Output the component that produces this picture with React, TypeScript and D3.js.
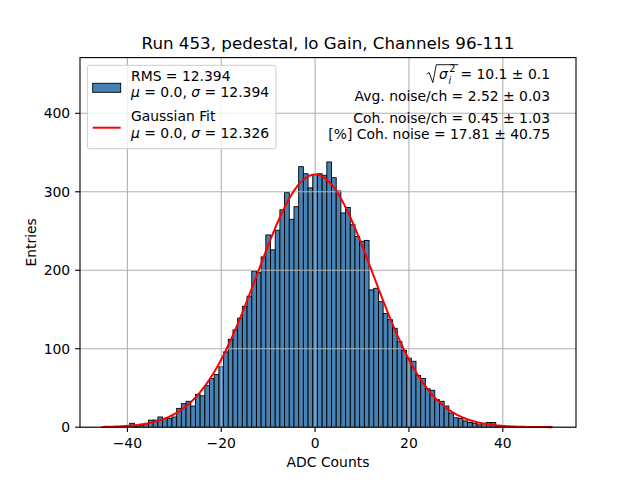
import * as d3 from "d3";

// histogram: one-ADC-count bins, first bin centred on -45
const binStart = -45;
const counts = [
  0, 0, 0, 0, 0, 0,
  5, 1, 2, 4, 9, 9, 13, 11, 11, 13,
  24, 30, 33, 27, 42, 40, 53, 62, 67, 77,
  96, 112, 124, 139, 154, 167, 199, 197, 217, 245,
  226, 251, 277, 299, 265, 281, 332, 323, 305, 322,
  323, 321, 338, 318, 301, 273, 280, 258, 243, 237,
  238, 175, 177, 160, 145, 137, 126, 109, 98, 88,
  84, 66, 62, 49, 47, 35, 33, 27, 18, 12,
  11, 8, 6, 5, 3, 5, 6, 6, 1, 1,
  0, 0, 0, 0, 0, 0, 0, 0, 0, 1,
];

// gaussian fit parameters
const fitMu = 0.0;
const fitSigma = 12.326;
const fitPeak = 322;
const fitRange = [-45.5, 50.5];

const xTicks = [-40, -20, 0, 20, 40];
const yTicks = [0, 100, 200, 300, 400];

const title = "Run 453, pedestal, lo Gain, Channels 96-111";
const statLines = [
  "Avg. noise/ch = 2.52 ± 0.03",
  "Coh. noise/ch = 0.45 ± 1.03",
  "[%] Coh. noise = 17.81 ± 40.75",
];

const W = 640, H = 480;
const m = { left: 80, right: 576, top: 57.6, bottom: 427.2 };
const FONT = "DejaVu Sans, sans-serif";
const BAR = "#4682b4";
const GRID = "#b0b0b0";

export default function App() {
  const x = d3.scaleLinear().domain([-50.1, 55.6]).range([m.left, m.right]);
  const y = d3.scaleLinear().domain([0, 471]).range([m.bottom, m.top]);

  const bins = counts.map((c, i) => ({ k: binStart + i, c }));

  const fitPts = d3.range(fitRange[0], fitRange[1] + 0.01, 0.25).map(v => [
    v,
    fitPeak * Math.exp(-((v - fitMu) ** 2) / (2 * fitSigma * fitSigma)),
  ]);
  const fitLine = d3.line<number[]>().x(d => x(d[0])).y(d => y(d[1]));

  return (
    <svg width={W} height={H} style={{ position: "absolute", left: 0, top: 0, background: "#fff" }} fontFamily={FONT}>
      <rect width={W} height={H} fill="#fff" />
      {/* bars */}
      {bins.filter(b => b.c > 0).map(b => (
        <rect key={b.k} x={x(b.k - 0.5)} width={x(b.k + 0.5) - x(b.k - 0.5)}
          y={y(b.c)} height={y(0) - y(b.c)} fill={BAR} stroke="#000" strokeWidth={0.9} />
      ))}
      {/* grid */}
      {xTicks.map(t => (
        <line key={"gx" + t} x1={x(t)} x2={x(t)} y1={m.top} y2={m.bottom} stroke={GRID} strokeWidth={1.1} />
      ))}
      {yTicks.map(t => (
        <line key={"gy" + t} x1={m.left} x2={m.right} y1={y(t)} y2={y(t)} stroke={GRID} strokeWidth={1.1} />
      ))}
      {/* fit */}
      <path d={fitLine(fitPts) ?? ""} fill="none" stroke="#ff0000" strokeWidth={2} />
      {/* spines */}
      <rect x={m.left} y={m.top} width={m.right - m.left} height={m.bottom - m.top} fill="none" stroke="#000" strokeWidth={1.1} />
      {/* ticks */}
      {xTicks.map(t => (
        <g key={"tx" + t}>
          <line x1={x(t)} x2={x(t)} y1={m.bottom} y2={m.bottom + 4.9} stroke="#000" strokeWidth={1.1} />
          <text x={x(t)} y={m.bottom + 20.5} fontSize={13.9} textAnchor="middle">{t < 0 ? "−" + Math.abs(t) : t}</text>
        </g>
      ))}
      {yTicks.map(t => (
        <g key={"ty" + t}>
          <line x1={m.left - 4.9} x2={m.left} y1={y(t)} y2={y(t)} stroke="#000" strokeWidth={1.1} />
          <text x={m.left - 9.8} y={y(t) + 5} fontSize={13.9} textAnchor="end">{t}</text>
        </g>
      ))}
      <text x={(m.left + m.right) / 2} y={467} fontSize={13.9} textAnchor="middle">ADC Counts</text>
      <text transform={`translate(36,${(m.top + m.bottom) / 2}) rotate(-90)`} fontSize={13.9} textAnchor="middle">Entries</text>
      <text x={(m.left + m.right) / 2} y={49} fontSize={16.7} textAnchor="middle">{title}</text>

      {/* stats box text */}
      <path d="M426.7 74 L429.2 72.6 L432.8 82.6 L436.3 64.7 L458.3 64.7" fill="none" stroke="#000" strokeWidth={0.9} />
      <text x={439} y={79} fontSize={13.9} fontStyle="italic">σ</text>
      <text x={449.2} y={71.5} fontSize={9.7}>2</text>
      <text x={448.5} y={83.5} fontSize={9.7} fontStyle="italic">i</text>
      <text x={550} y={79} fontSize={13.9} textAnchor="end">= 10.1 ± 0.1</text>
      {statLines.map((s, i) => (
        <text key={s} x={550} y={[101.3, 122.6, 139][i]} fontSize={13.9} textAnchor="end">{s}</text>
      ))}

      {/* legend */}
      <rect x={87.3} y={65.3} width={188.7} height={83.4} rx={2.5} fill="#fff" fillOpacity={0.8} stroke="#cccccc" strokeWidth={1} />
      <rect x={92.7} y={83.3} width={28} height={9} fill={BAR} stroke="#000" strokeWidth={0.9} />
      <text x={131} y={80.7} fontSize={13.9}>RMS = 12.394</text>
      <text x={131} y={96.6} fontSize={13.9}>
        <tspan fontStyle="italic">μ</tspan> = 0.0, <tspan fontStyle="italic">σ</tspan> = 12.394
      </text>
      <line x1={92.7} x2={120.7} y1={127.7} y2={127.7} stroke="#ff0000" strokeWidth={2} />
      <text x={131} y={121.3} fontSize={13.9}>Gaussian Fit</text>
      <text x={131} y={138} fontSize={13.9}>
        <tspan fontStyle="italic">μ</tspan> = 0.0, <tspan fontStyle="italic">σ</tspan> = 12.326
      </text>
    </svg>
  );
}
